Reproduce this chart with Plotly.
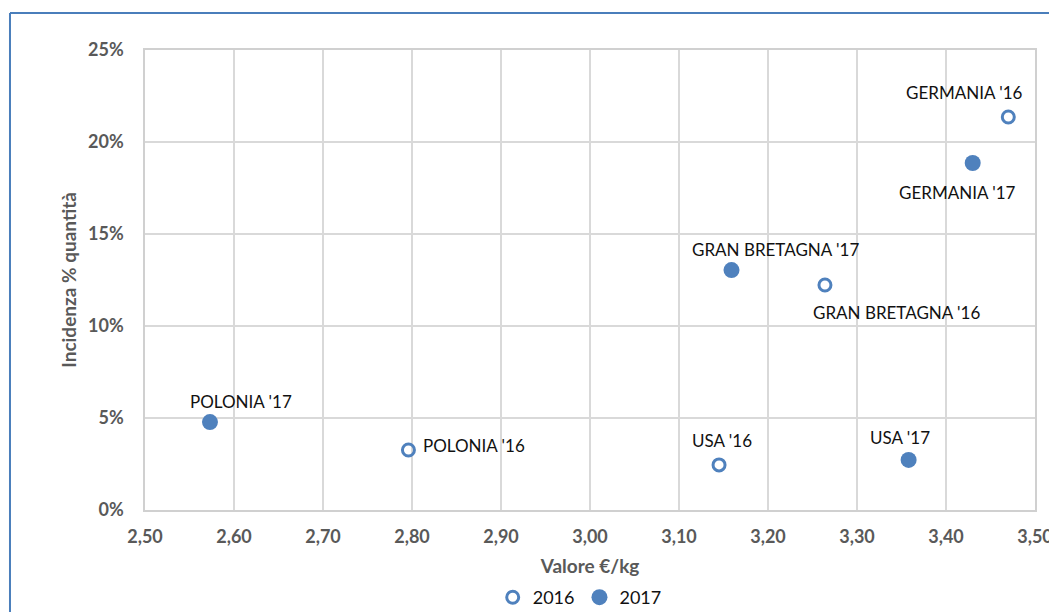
import plotly.graph_objects as go

# Data
labels_2016 = ["GERMANIA '16", "GRAN BRETAGNA '16", "POLONIA '16", "USA '16"]
x_2016 = [3.470, 3.264, 2.796, 3.145]
y_2016 = [0.2136, 0.1223, 0.0326, 0.0245]

labels_2017 = ["GERMANIA '17", "GRAN BRETAGNA '17", "POLONIA '17", "USA '17"]
x_2017 = [3.430, 3.159, 2.573, 3.358]
y_2017 = [0.1886, 0.1304, 0.0478, 0.0272]

x_ticks = [2.5, 2.6, 2.7, 2.8, 2.9, 3.0, 3.1, 3.2, 3.3, 3.4, 3.5]
y_ticks = [0, 0.05, 0.10, 0.15, 0.20, 0.25]

# label offsets (pixels) for each point
off_2016 = [(-44, 24), (72, -28), (66, 5), (3, 24)]
off_2017 = [(-15, -30), (44, 21), (31, 21), (-9, 22)]

BLUE = "#4f81bd"
FONT = "Lato, 'Open Sans', sans-serif"

fig = go.Figure()
fig.add_trace(go.Scatter(
    x=x_2016, y=y_2016, mode="markers", name="2016",
    marker=dict(symbol="circle-open", size=12, color=BLUE, line=dict(width=3, color=BLUE)),
))
fig.add_trace(go.Scatter(
    x=x_2017, y=y_2017, mode="markers", name="2017",
    marker=dict(symbol="circle", size=16, color=BLUE),
))

for xs, ys, ls, offs in [(x_2016, y_2016, labels_2016, off_2016), (x_2017, y_2017, labels_2017, off_2017)]:
    for x, y, t, (dx, dy) in zip(xs, ys, ls, offs):
        fig.add_annotation(x=x, y=y, text=t, showarrow=False, xshift=dx, yshift=dy,
                           font=dict(family=FONT, size=17, color="#111111"))

# outer frame (blue border)
fig.add_shape(type="line", xref="paper", yref="paper", x0=-0.1517, x1=1.05, y0=1.0804, y1=1.0804,
              line=dict(color="#4a7ebb", width=2))
fig.add_shape(type="line", xref="paper", yref="paper", x0=-0.1517, x1=-0.1517, y0=1.0804, y1=-0.25,
              line=dict(color="#4a7ebb", width=2))

fig.update_layout(
    width=1049, height=604,
    margin=dict(l=137, r=22, t=42, b=102),
    paper_bgcolor="white", plot_bgcolor="white",
    separators=",.",
    font=dict(family=FONT, color="#595959"),
    showlegend=True,
    legend=dict(orientation="h", xref="container", yref="container",
                x=0.545, xanchor="center", y=0.024, yanchor="middle",
                font=dict(family=FONT, size=18, color="#111111"), itemwidth=30, tracegroupgap=0),
    xaxis=dict(range=[2.5, 3.5], tickvals=x_ticks, tickformat=".2f",
               showgrid=True, gridcolor="#d9d9d9", gridwidth=1.5,
               showline=True, linecolor="#d0d0d0", linewidth=1.5, mirror=True, zeroline=False,
               ticks="", ticklabelstandoff=10, automargin=False,
               tickfont=dict(size=18, color="#595959", family=FONT, weight="bold"),
               title=dict(text="<b>Valore €/kg</b>", font=dict(size=19, color="#595959"), standoff=13)),
    yaxis=dict(range=[0, 0.25], tickvals=y_ticks, tickformat=".0%",
               showgrid=True, gridcolor="#d9d9d9", gridwidth=1.5,
               showline=True, linecolor="#d0d0d0", linewidth=1.5, mirror=True, zeroline=False,
               ticks="", ticklabelstandoff=16, automargin=False,
               tickfont=dict(size=18, color="#595959", family=FONT, weight="bold"),
               title=dict(text="<b>Incidenza % quantità</b>", font=dict(size=19, color="#595959"), standoff=6)),
)

fig.write_html("out.html")
